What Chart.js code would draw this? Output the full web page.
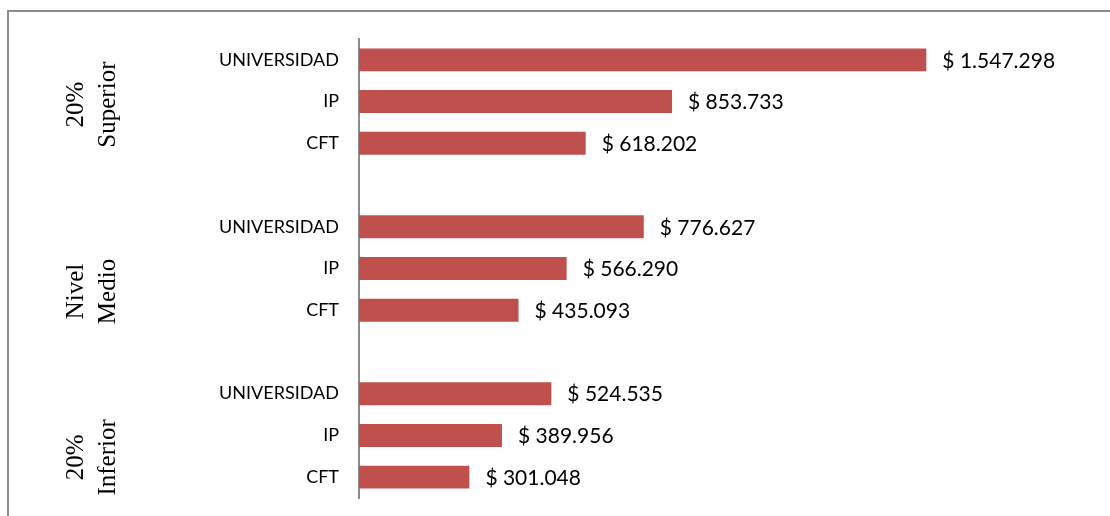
<!DOCTYPE html>
<html>
<head>
<meta charset="utf-8">
<script src="https://cdn.jsdelivr.net/npm/chart.js@4.4.1/dist/chart.umd.min.js"></script>
<style>
  body { margin: 0; background: #fff; }
  #wrap { width: 1110px; height: 516px; }
</style>
</head>
<body>
<div id="wrap"><canvas id="incomeChart" width="1110" height="516"></canvas></div>
<script>
// group names (drawn rotated on the left), levels per group, and values
const groups = [['20%', 'Superior'], ['Nivel', 'Medio'], ['20%', 'Inferior']];
const levels = ['UNIVERSIDAD', 'IP', 'CFT'];
const superior = [1547298, 853733, 618202];
const medio = [776627, 566290, 435093];
const inferior = [524535, 389956, 301048];

// one empty slot between groups
const labels = [];
const values = [];
[superior, medio, inferior].forEach((vals, g) => {
  if (g > 0) { labels.push(''); values.push(null); }
  levels.forEach((lvl, i) => { labels.push(lvl); values.push(vals[i]); });
});

const fmt = v => '$ ' + String(v).replace(/\B(?=(\d{3})+(?!\d))/g, '.');

const extras = {
  id: 'extras',
  beforeDraw(chart) {
    const ctx = chart.ctx;
    ctx.save();
    ctx.strokeStyle = '#8c8c8c';
    ctx.lineWidth = 2;
    ctx.beginPath();
    ctx.moveTo(8, chart.height);
    ctx.lineTo(8, 11);
    ctx.lineTo(chart.width, 11);
    ctx.stroke();
    ctx.restore();
  },
  afterDatasetsDraw(chart) {
    const ctx = chart.ctx;
    const meta = chart.getDatasetMeta(0);
    ctx.save();
    // value labels at the bar ends
    ctx.font = '21px Lato, "Open Sans", sans-serif';
    ctx.fillStyle = '#000';
    ctx.textAlign = 'left';
    ctx.textBaseline = 'middle';
    meta.data.forEach((bar, i) => {
      if (values[i] == null) return;
      ctx.fillText(fmt(values[i]), bar.x + 16, bar.y + 1);
    });
    // rotated group names
    const yScale = chart.scales.y;
    const nudge = [3, 23, 22];
    ctx.font = '25px "Liberation Serif", "Times New Roman", serif';
    ctx.textAlign = 'center';
    groups.forEach((lines, g) => {
      const cy = yScale.getPixelForValue(g * 4 + 1) + nudge[g];
      ctx.save();
      ctx.translate(76, cy);
      ctx.rotate(-Math.PI / 2);
      ctx.fillText(lines[0], 0, 0);
      ctx.fillText(lines[1], 0, 32);
      ctx.restore();
    });
    ctx.restore();
  }
};

new Chart(document.getElementById('incomeChart'), {
  type: 'bar',
  data: {
    labels: labels,
    datasets: [{
      data: values,
      backgroundColor: '#C0504D',
      borderWidth: 0,
      barPercentage: 0.55,
      categoryPercentage: 1
    }]
  },
  options: {
    indexAxis: 'y',
    responsive: false,
    animation: false,
    layout: { padding: { top: 39, bottom: 18, right: 91, left: 0 } },
    plugins: { legend: { display: false }, tooltip: { enabled: false } },
    scales: {
      x: { display: false, min: 0, max: 1800000 },
      y: {
        afterFit(scale) {
          scale.width = 359;
          scale.paddingTop = 0;
          scale.paddingBottom = 0;
        },
        grid: { display: false },
        border: { display: true, color: '#8c8c8c', width: 2 },
        ticks: {
          padding: 12,
          color: '#000',
          font: { family: 'Lato, "Open Sans", sans-serif', size: 18 }
        }
      }
    }
  },
  plugins: [extras]
});
</script>
</body>
</html>
